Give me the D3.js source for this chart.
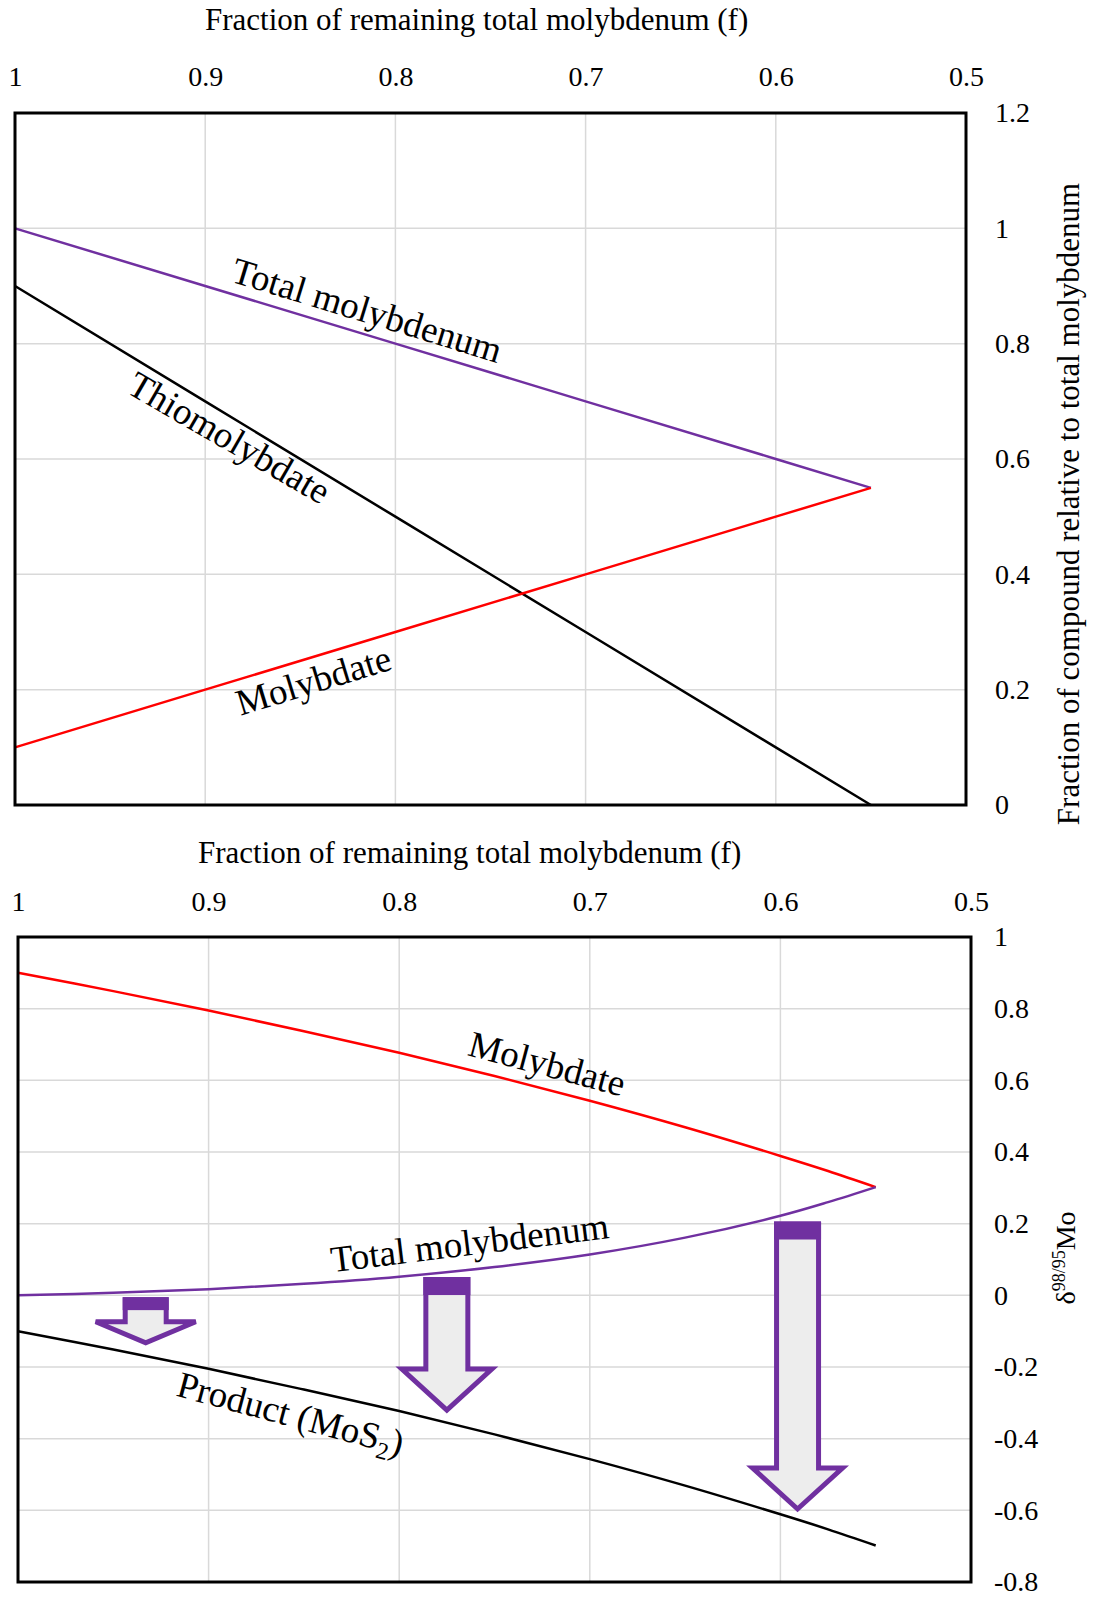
<!DOCTYPE html>
<html>
<head>
<meta charset="utf-8">
<script src="https://cdn.jsdelivr.net/npm/d3@7/dist/d3.min.js"></script>
<style>
  body { margin: 0; background: #fff; }
  text { font-family: "Liberation Serif", "Times New Roman", serif; fill: #000; }
</style>
</head>
<body>
<script>
// ---- data ----
var xTicks = [1, 0.9, 0.8, 0.7, 0.6, 0.5];
var xTitle = "Fraction of remaining total molybdenum (f)";

// top panel: fraction of each compound
var fTop = [1, 0.9, 0.8, 0.7, 0.6, 0.55];
var totalTop = [1, 0.9, 0.8, 0.7, 0.6, 0.55];
var thioTop = [0.9, 0.7, 0.5, 0.3, 0.1, 0];
var molyTop = [0.1, 0.2, 0.3, 0.4, 0.5, 0.55];
var yTicksTop = [0, 0.2, 0.4, 0.6, 0.8, 1, 1.2];

// bottom panel: d98/95Mo
var fBot = [1, 0.95, 0.9, 0.85, 0.8, 0.75, 0.7, 0.65, 0.6, 0.575, 0.55];
var molyBot = [0.9, 0.849, 0.795, 0.737, 0.677, 0.612, 0.543, 0.469, 0.389, 0.347, 0.302];
var totalBot = [0, 0.007, 0.017, 0.032, 0.052, 0.079, 0.114, 0.161, 0.222, 0.26, 0.302];
var prodBot = [-0.1, -0.151, -0.205, -0.263, -0.323, -0.388, -0.457, -0.531, -0.611, -0.653, -0.698];
var yTicksBot = [-0.8, -0.6, -0.4, -0.2, 0, 0.2, 0.4, 0.6, 0.8, 1];

// arrows: from total Mo down to product
var arrowF = [0.933, 0.775, 0.591];
var arrowTop = [-0.005, 0.051, 0.206];
var arrowTip = [-0.142, -0.33, -0.606];

// ---- style ----
var purple = "#7030A0", red = "#FF0000", grid = "#D9D9D9";
var arrowShape = [
  { shaft: 46, head: 105, headH: 27, cap: 13 },
  { shaft: 47, head: 95, headH: 47, cap: 18 },
  { shaft: 47, head: 95, headH: 47, cap: 18 }
];

var svg = d3.select("body").append("svg")
  .attr("width", 1093)
  .attr("height", 1597);

var fmt = function(d) { return String(+d.toFixed(1)); };

function panel(p) {
  var g = svg.append("g").attr("transform", `translate(${p.left}, ${p.top})`);
  var x = d3.scaleLinear().domain([1, 0.5]).range([0, p.width]);
  var y = d3.scaleLinear().domain(p.yDomain).range([p.height, 0]);

  // gridlines
  g.append("g").selectAll("line").data(xTicks).join("line")
    .attr("x1", d => x(d)).attr("x2", d => x(d))
    .attr("y1", 0).attr("y2", p.height)
    .attr("stroke", grid).attr("stroke-width", 1.5);
  g.append("g").selectAll("line").data(p.yTicks).join("line")
    .attr("x1", 0).attr("x2", p.width)
    .attr("y1", d => y(d)).attr("y2", d => y(d))
    .attr("stroke", grid).attr("stroke-width", 1.5);

  // axes (labels only)
  var xa = g.append("g")
    .call(d3.axisTop(x).tickValues(xTicks).tickFormat(fmt).tickSize(0).tickPadding(p.xPad));
  var ya = g.append("g").attr("transform", `translate(${p.width}, 0)`)
    .call(d3.axisRight(y).tickValues(p.yTicks).tickFormat(fmt).tickSize(0).tickPadding(p.yPad));
  [xa, ya].forEach(a => {
    a.select(".domain").remove();
    a.selectAll("text").style("font-family", '"Liberation Serif", serif').style("font-size", "28px").attr("fill", "#000");
  });

  // x title
  g.append("text")
    .attr("x", p.titleX).attr("y", p.titleY)
    .style("font-size", "31px")
    .text(xTitle);

  return { g: g, x: x, y: y };
}

function addLine(pn, fs, vs, color, curve) {
  var line = d3.line()
    .x((d, i) => pn.x(fs[i]))
    .y(d => pn.y(d))
    .curve(curve || d3.curveLinear);
  pn.g.append("path")
    .datum(vs)
    .attr("fill", "none")
    .attr("stroke", color)
    .attr("stroke-width", 2.5)
    .attr("d", line);
}

function addLabel(pn, f, v, angle, parts) {
  var t = pn.g.append("text")
    .attr("transform", `translate(${pn.x(f)}, ${pn.y(v)}) rotate(${angle})`)
    .attr("text-anchor", "middle")
    .attr("dy", "0.32em")
    .style("font-size", "37px");
  parts.forEach(pt => {
    var s = t.append("tspan").text(pt.t);
    if (pt.size) s.style("font-size", pt.size + "px");
    if (pt.dy) s.attr("dy", pt.dy);
  });
}

function border(pn, w, h) {
  pn.g.append("rect")
    .attr("width", w).attr("height", h)
    .attr("fill", "none").attr("stroke", "#000").attr("stroke-width", 3);
}

// ---- top panel ----
var topP = panel({ left: 15, top: 113, width: 951, height: 692, yDomain: [0, 1.2], yTicks: yTicksTop,
  xPad: 27, yPad: 29, titleX: 190, titleY: -83 });
addLine(topP, fTop, totalTop, purple);
addLine(topP, fTop, thioTop, "#000");
addLine(topP, fTop, molyTop, red);
addLabel(topP, 0.815, 0.857, 17, [{ t: "Total molybdenum" }]);
addLabel(topP, 0.8875, 0.636, 30, [{ t: "Thiomolybdate" }]);
addLabel(topP, 0.843, 0.215, -17, [{ t: "Molybdate" }]);
border(topP, 951, 692);

svg.append("text")
  .attr("transform", "translate(1079, 504) rotate(-90)")
  .attr("text-anchor", "middle")
  .style("font-size", "31px")
  .text("Fraction of compound relative to total molybdenum");

// ---- bottom panel ----
var botP = panel({ left: 18, top: 937, width: 953, height: 645, yDomain: [-0.8, 1], yTicks: yTicksBot,
  xPad: 26, yPad: 23, titleX: 180, titleY: -74 });
addLine(botP, fBot, molyBot, red, d3.curveCatmullRom);
addLine(botP, fBot, totalBot, purple, d3.curveCatmullRom);
addLine(botP, fBot, prodBot, "#000", d3.curveCatmullRom);
addLabel(botP, 0.7225, 0.645, 15, [{ t: "Molybdate" }]);
addLabel(botP, 0.763, 0.145, -7, [{ t: "Total molybdenum" }]);
addLabel(botP, 0.857, -0.332, 15, [{ t: "Product (MoS" }, { t: "2", size: 24, dy: 8 }, { t: ")", dy: -8 }]);

// arrows
arrowF.forEach((f, i) => {
  var s = arrowShape[i];
  var cx = botP.x(f), yt = botP.y(arrowTop[i]), yp = botP.y(arrowTip[i]);
  var sw = 5, h = sw / 2;
  var sh = s.shaft / 2 - h, hh = s.head / 2 - h, hy = yp - s.headH + h;
  var pts = [[cx - sh, yt + h], [cx + sh, yt + h], [cx + sh, hy], [cx + hh, hy], [cx, yp - 3.5],
             [cx - hh, hy], [cx - sh, hy]];
  botP.g.append("path")
    .attr("d", "M" + pts.map(q => q.join(",")).join("L") + "Z")
    .attr("fill", "#EDEDED").attr("stroke", purple).attr("stroke-width", sw)
    .attr("stroke-linejoin", "miter");
  botP.g.append("rect")
    .attr("x", cx - s.shaft / 2).attr("y", yt)
    .attr("width", s.shaft).attr("height", s.cap)
    .attr("fill", purple);
});
border(botP, 953, 645);

var dl = svg.append("text")
  .attr("transform", "translate(1075, 1258) rotate(-90)")
  .attr("text-anchor", "middle")
  .style("font-size", "28px");
dl.append("tspan").text("δ");
dl.append("tspan").text("98/95").style("font-size", "18px").attr("dy", -10);
dl.append("tspan").text("Mo").attr("dy", 10);
</script>
</body>
</html>
